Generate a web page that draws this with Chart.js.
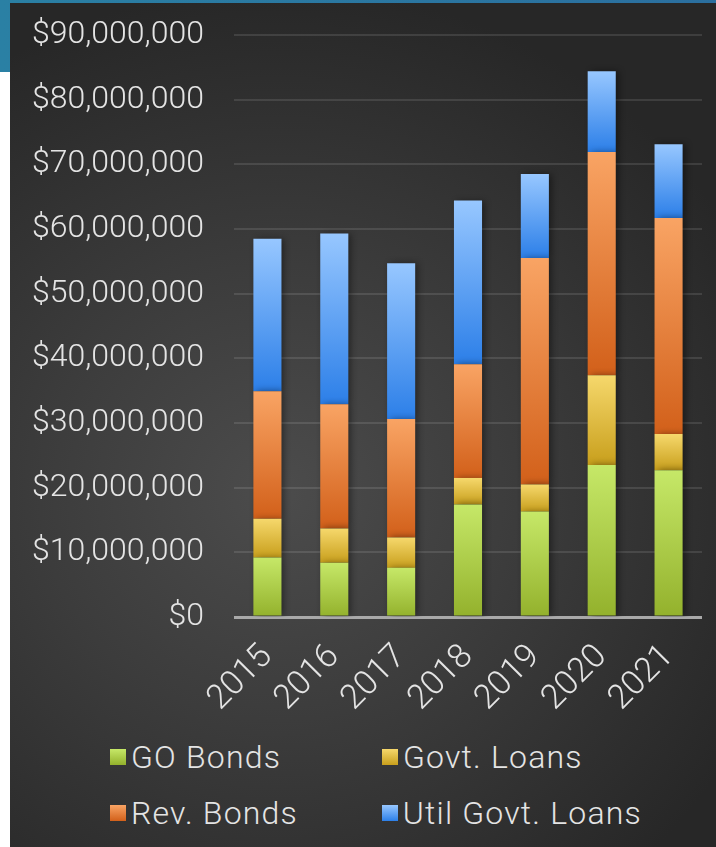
<!DOCTYPE html>
<html>
<head>
<meta charset="utf-8">
<script src="https://cdn.jsdelivr.net/npm/chart.js@4.4.1/dist/chart.umd.min.js"></script>
<style>
    body { margin: 0; width: 716px; height: 847px; background: #fff; position: relative; overflow: hidden; font-family: Roboto, sans-serif; }
    #band { position: absolute; left: 0; top: 0; width: 716px; height: 72px; background: linear-gradient(90deg, #2a80a4, #2b6f9f); }
    #panel { position: absolute; left: 10px; top: 3px; width: 706px; height: 844px;
        background: radial-gradient(ellipse 75% 60% at 38% 58%, #4c4c4c 0%, #3c3c3c 45%, #272727 100%); }
    #wrap { position: absolute; left: 0; top: 0; width: 706px; height: 717px; }
    #legend { position: absolute; left: 100px; top: 735px; display: grid; grid-template-columns: 272px 260px; row-gap: 18px; }
    .item { display: flex; align-items: center; color: #e4e4e4; font-size: 32px; font-weight: 300; letter-spacing: 1.2px; height: 38px; white-space: nowrap; }
    .box { width: 16px; height: 16px; margin-right: 5px; }
</style>
</head>
<body>
<div id="band"></div>
<div id="panel">
    <div id="wrap"><canvas id="grafico"></canvas></div>
    <div id="legend"></div>
</div>
<script>
const years = ['2015', '2016', '2017', '2018', '2019', '2020', '2021'];
const goBonds = [9200000, 8400000, 7600000, 17400000, 16300000, 23500000, 22700000];
const govtLoans = [6000000, 5300000, 4700000, 4100000, 4200000, 13900000, 5600000];
const revBonds = [19700000, 19200000, 18300000, 17600000, 35000000, 34500000, 33400000];
const utilGovtLoans = [23600000, 26400000, 24100000, 25300000, 13000000, 12500000, 11400000];
const seriesNames = ['GO Bonds', 'Govt. Loans', 'Rev. Bonds', 'Util Govt. Loans'];
const yTicks = [0, 10000000, 20000000, 30000000, 40000000, 50000000, 60000000, 70000000, 80000000, 90000000];

const series = [goBonds, govtLoans, revBonds, utilGovtLoans];
const colores = [
    ['#c6e868', '#93b12c'],
    ['#f6d86c', '#c89f1c'],
    ['#f9a464', '#d2601a'],
    ['#97c7ff', '#2c7fe8']
];

// gradiente vertical por segmento
function relleno(ds) {
    return function (context) {
        const chart = context.chart;
        const y = chart.scales.y;
        if (!chart.chartArea || !y || context.type !== 'data') return colores[ds][0];
        const i = context.dataIndex;
        let base = 0;
        for (let k = 0; k < ds; k++) base += series[k][i];
        const top = y.getPixelForValue(base + series[ds][i]);
        const bottom = y.getPixelForValue(base);
        if (!isFinite(top) || !isFinite(bottom) || top === bottom) return colores[ds][0];
        const g = chart.ctx.createLinearGradient(0, top, 0, bottom);
        g.addColorStop(0, colores[ds][0]);
        g.addColorStop(1, colores[ds][1]);
        return g;
    };
}

const datasets = series.map((d, k) => ({
    label: seriesNames[k],
    data: d,
    backgroundColor: relleno(k),
    borderWidth: 0,
    barPercentage: 0.42,
    categoryPercentage: 1
}));

const sombra = {
    id: 'sombra',
    beforeDatasetsDraw(chart) {
        const ctx = chart.ctx;
        ctx.save();
        ctx.shadowColor = 'rgba(0,0,0,0.45)';
        ctx.shadowBlur = 7;
        ctx.shadowOffsetX = 3;
    },
    afterDatasetsDraw(chart) {
        chart.ctx.restore();
    }
};

const fmt = v => '$' + v.toLocaleString('en-US');

window.miGrafico = new Chart(document.getElementById('grafico').getContext('2d'), {
    type: 'bar',
    data: { labels: years, datasets: datasets },
    plugins: [sombra],
    options: {
        responsive: true,
        maintainAspectRatio: false,
        animation: false,
        layout: { padding: { top: 32, right: 14, left: 0, bottom: 0 } },
        plugins: {
            legend: { display: false },
            tooltip: { enabled: false }
        },
        scales: {
            x: {
                stacked: true,
                grid: { display: false },
                border: { display: false },
                ticks: {
                    color: '#e4e4e4',
                    font: { family: 'Roboto', size: 34, weight: 300 },
                    minRotation: 45,
                    maxRotation: 45,
                    padding: 12
                },
                afterFit: s => { s.height = 103; }
            },
            y: {
                stacked: true,
                min: 0,
                max: 90000000,
                afterBuildTicks: s => { s.ticks = yTicks.map(v => ({ value: v })); },
                grid: {
                    color: c => c.tick && c.tick.value === 0 ? '#a9a9a9' : 'rgba(255,255,255,0.11)',
                    lineWidth: c => c.tick && c.tick.value === 0 ? 3 : 2,
                    drawTicks: false
                },
                border: { display: false },
                ticks: {
                    color: '#e4e4e4',
                    font: { family: 'Roboto', size: 32, weight: 300 },
                    padding: 30,
                    callback: v => fmt(v)
                },
                afterFit: s => { s.width = 224; s.paddingTop = 0; s.paddingBottom = 0; }
            }
        }
    }
});

// leyenda en HTML
const leyenda = document.getElementById('legend');
seriesNames.forEach((n, k) => {
    const it = document.createElement('div');
    it.className = 'item';
    it.innerHTML = '<span class="box" style="background:linear-gradient(' + colores[k][0] + ',' + colores[k][1] + ')"></span>' + n;
    leyenda.appendChild(it);
});
</script>
</body>
</html>
